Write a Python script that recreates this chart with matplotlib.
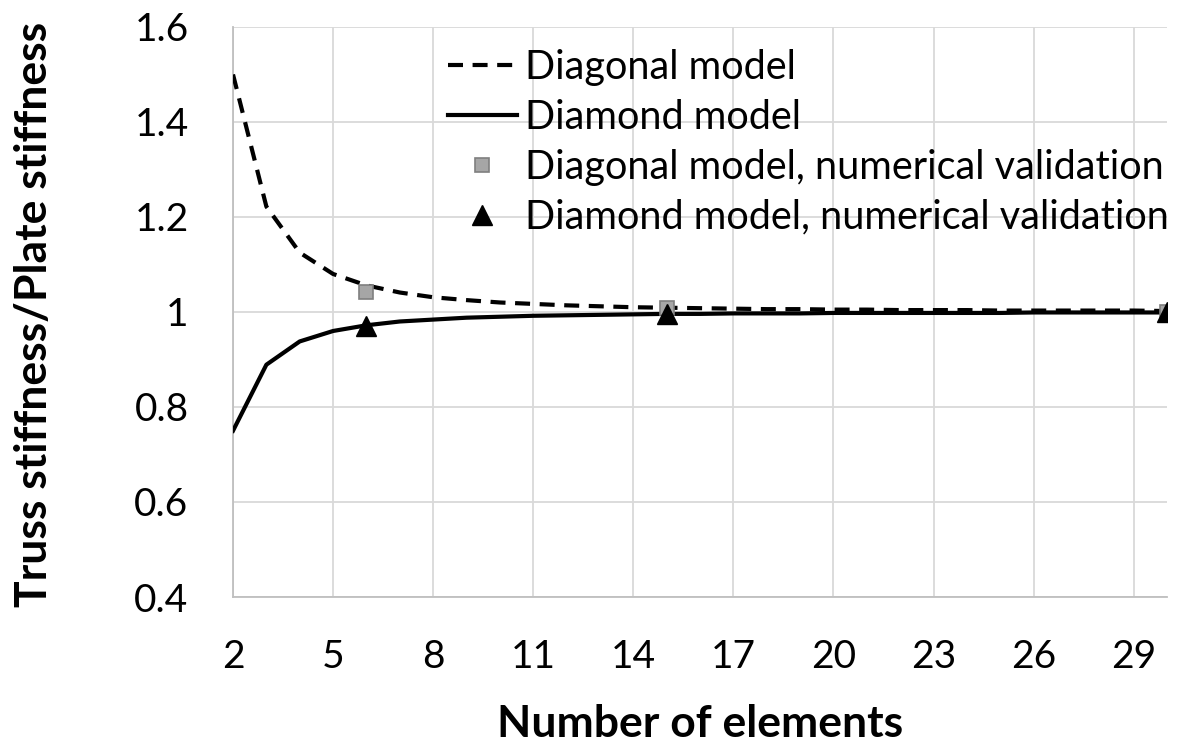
import matplotlib
matplotlib.use('Agg')
from matplotlib import pyplot as plt

# values
n_elements = list(range(2, 31))
diagonal_model = [1.5, 1.222, 1.125, 1.08, 1.056, 1.041, 1.031, 1.025, 1.02, 1.017,
                  1.014, 1.012, 1.01, 1.009, 1.008, 1.007, 1.006, 1.006, 1.005, 1.005,
                  1.004, 1.004, 1.004, 1.003, 1.003, 1.003, 1.003, 1.003, 1.002]
diamond_model = [0.75, 0.889, 0.938, 0.96, 0.972, 0.98, 0.984, 0.988, 0.99, 0.992,
                 0.993, 0.994, 0.995, 0.996, 0.996, 0.997, 0.997, 0.997, 0.998, 0.998,
                 0.998, 0.998, 0.998, 0.998, 0.999, 0.999, 0.999, 0.999, 0.999]
valid_n = [6, 15, 30]
diagonal_valid = [1.043, 1.008, 1.001]
diamond_valid = [0.97, 0.995, 0.999]

x_ticks = list(range(2, 30, 3))
y_ticks = [0.4, 0.6, 0.8, 1, 1.2, 1.4, 1.6]
y_tick_labels = ['0.4', '0.6', '0.8', '1', '1.2', '1.4', '1.6']

plt.rcParams['font.family'] = ['Lato', 'DejaVu Sans']

fig = plt.figure(figsize=(11.78, 7.47), dpi=100)
ax = fig.add_axes([0.1978, 0.2008, 0.7929, 0.7631])

ax.plot(n_elements, diagonal_model, color='black', linewidth=3,
        linestyle=(0, (3.6, 2.3)), label='Diagonal model', zorder=3)
ax.plot(n_elements, diamond_model, color='black', linewidth=3,
        label='Diamond model', zorder=3)
ax.plot(valid_n, diagonal_valid, linestyle='none', marker='s', markersize=10,
        markerfacecolor='#a6a6a6', markeredgecolor='#7f7f7f', markeredgewidth=1.2,
        label='Diagonal model, numerical validation', zorder=4)
ax.plot(valid_n, diamond_valid, linestyle='none', marker='^', markersize=15,
        color='black', label='Diamond model, numerical validation', zorder=5)

ax.set_xlim(2, 30)
ax.set_ylim(0.4, 1.6)
ax.set_xticks(x_ticks)
ax.set_yticks(y_ticks)
ax.set_yticklabels(y_tick_labels)
ax.tick_params(length=0)
ax.tick_params(axis='x', pad=30, labelsize=28)
ax.tick_params(axis='y', pad=32, labelsize=28)
ax.grid(True, color='#d9d9d9', linewidth=1.3)
ax.set_axisbelow(True)
for side in ['top', 'right']:
    ax.spines[side].set_visible(False)
for side in ['left', 'bottom']:
    ax.spines[side].set_color('#bfbfbf')
    ax.spines[side].set_linewidth(1.3)

ax.set_xlabel('Number of elements', fontsize=32, fontweight='bold', va='center')
ax.set_ylabel('Truss stiffness/Plate stiffness', fontsize=32, fontweight='bold', va='center')
ax.xaxis.set_label_coords(0.5, -0.222)
ax.yaxis.set_label_coords(-0.213, 0.495)

ax.legend(loc='upper left', bbox_to_anchor=(0.213, 0.99), frameon=False, fontsize=28.5,
          handlelength=1.75, handletextpad=0.2, labelspacing=0.33, borderaxespad=0)

fig.savefig('out.png', dpi=100)
